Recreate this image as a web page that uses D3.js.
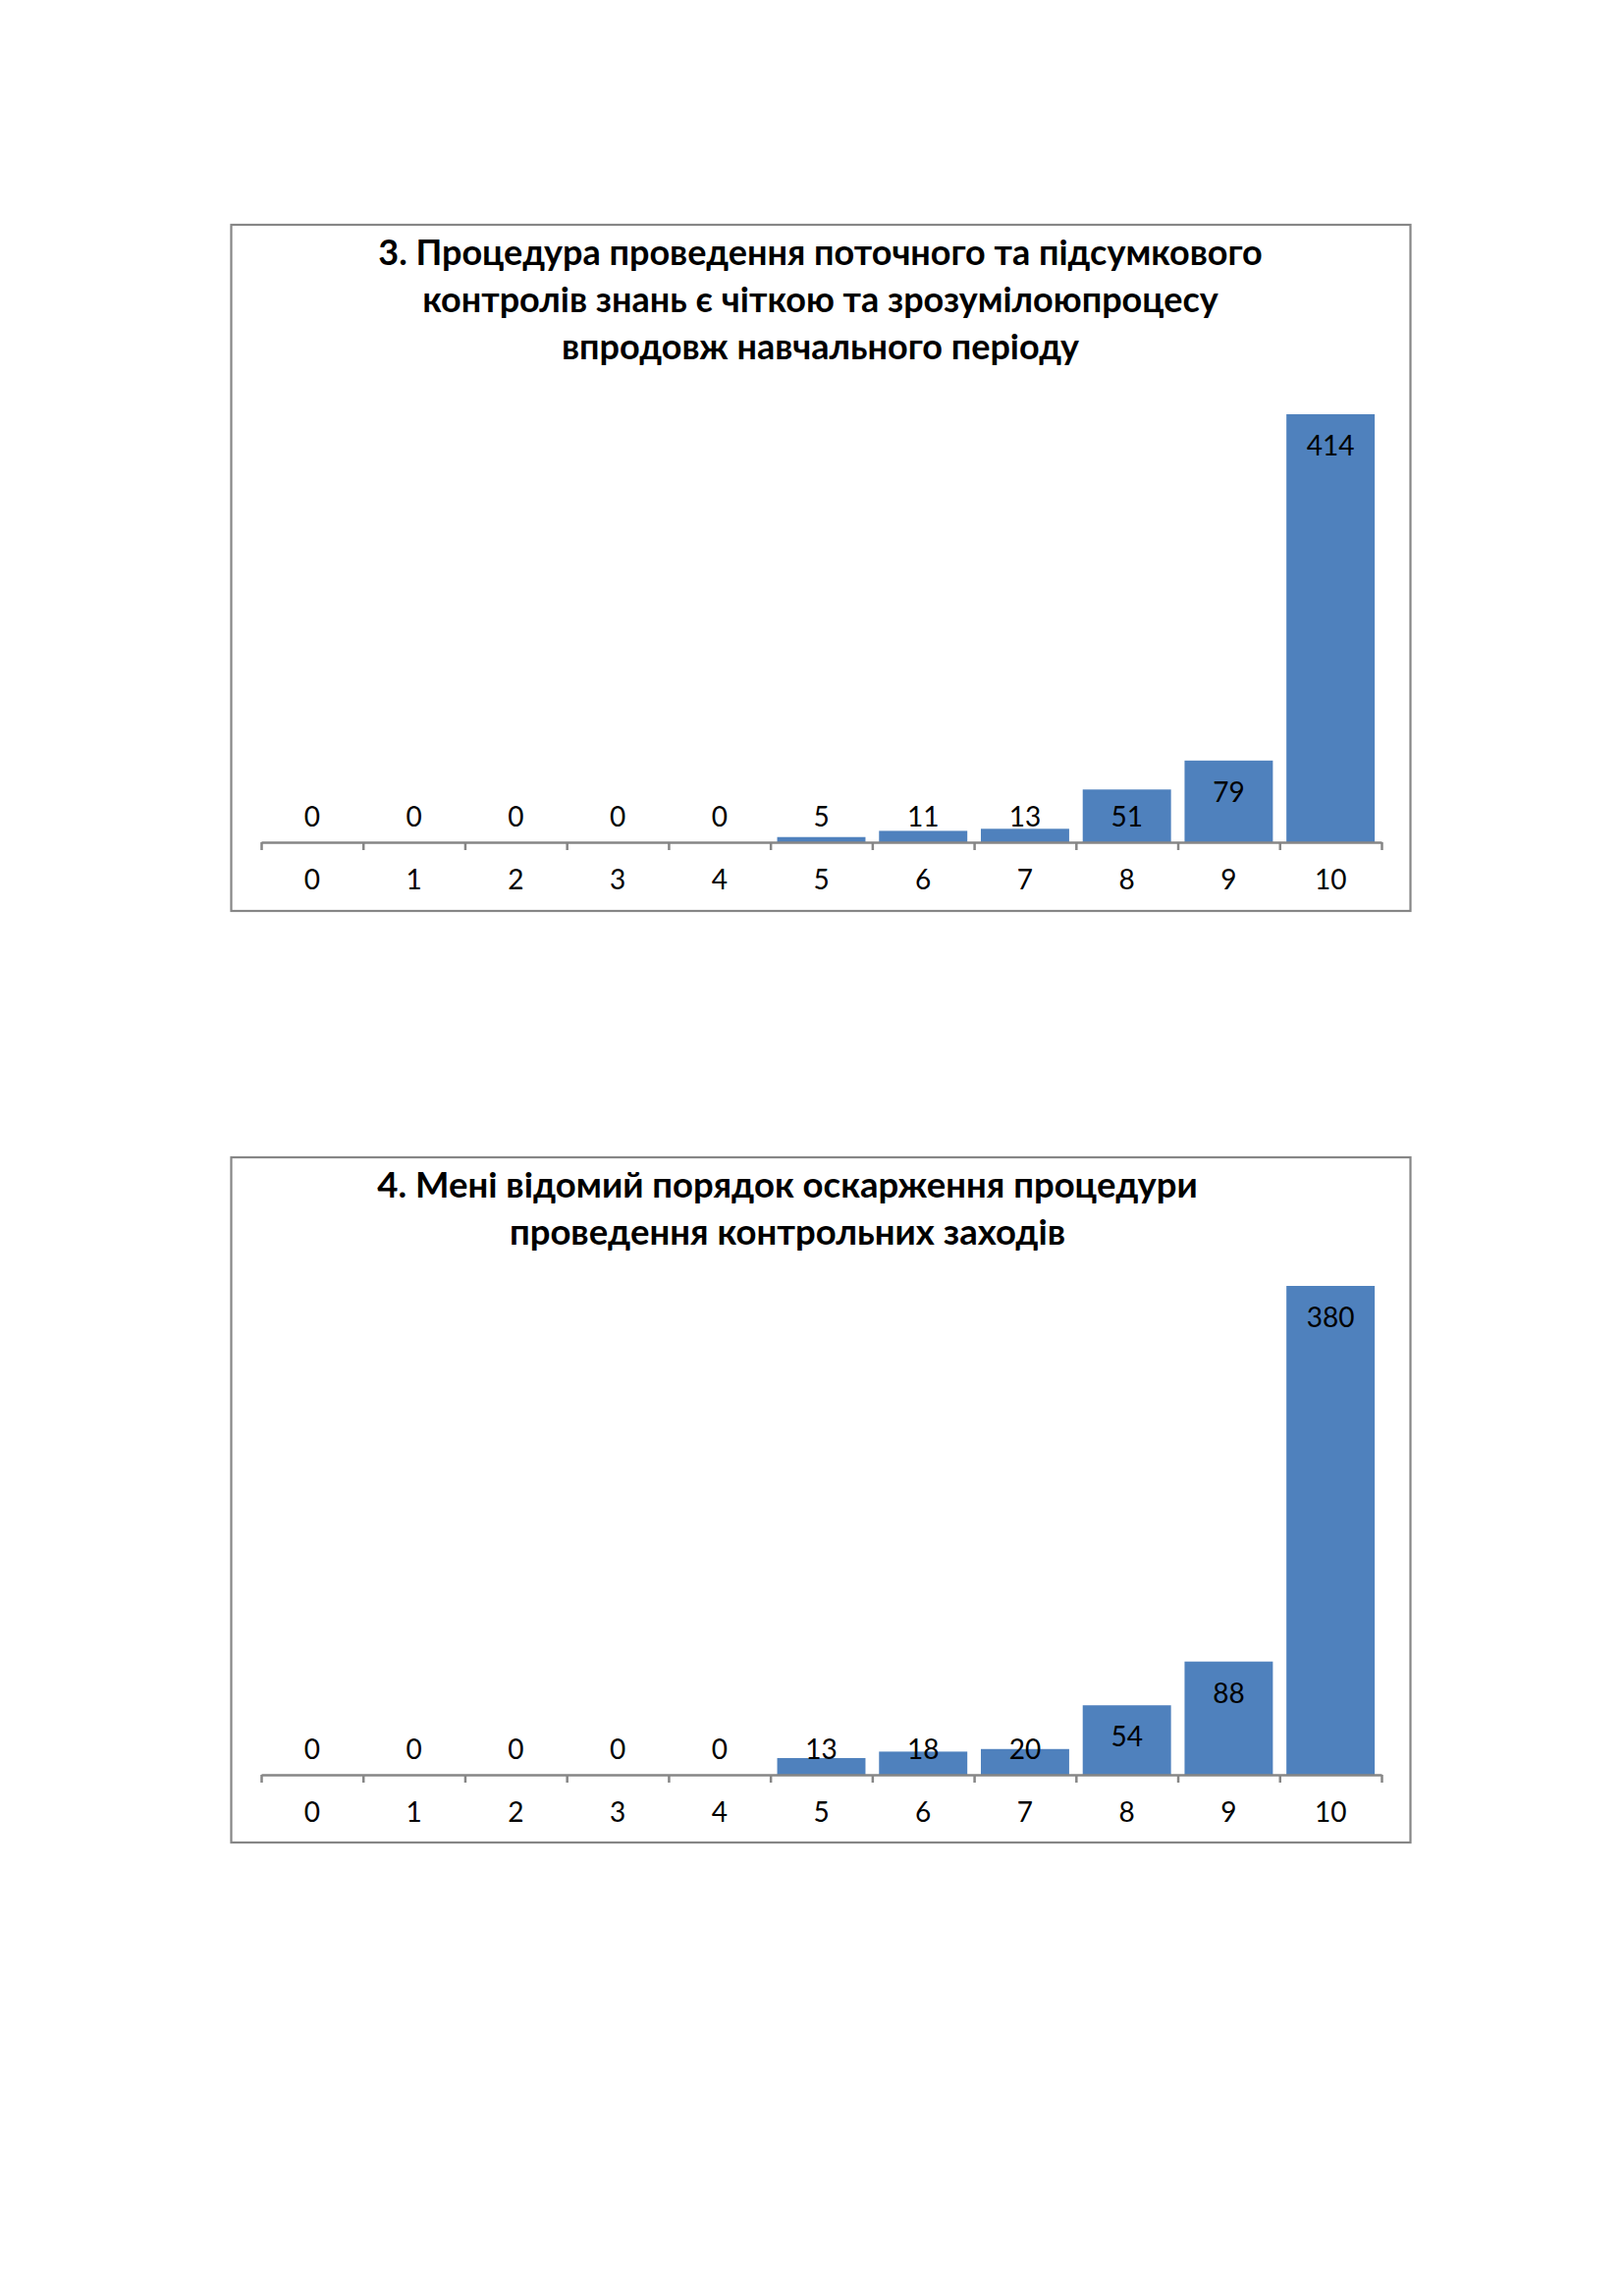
<!DOCTYPE html>
<html><head><meta charset="utf-8">
<script src="https://cdn.jsdelivr.net/npm/d3@7"></script>
<style>body{margin:0;background:#fff}svg{display:block}</style>
</head><body>
<svg id="page" width="1654" height="2339"></svg>
<script>
const categories = ["0","1","2","3","4","5","6","7","8","9","10"];
const values1 = [0,0,0,0,0,5,11,13,51,79,414];
const values2 = [0,0,0,0,0,13,18,20,54,88,380];
const title1 = ["3. Процедура проведення поточного та підсумкового",
                "контролів знань є чіткою та зрозумілоюпроцесу",
                "впродовж навчального періоду"];
const title2 = ["4. Мені відомий порядок оскарження процедури",
                "проведення контрольних заходів"];
const yMax1 = 450, yMax2 = 400;

const svg = d3.select("#page");
const FONT = "Lato, 'Open Sans', sans-serif";
const AX0 = 266, AX1 = 1407;

function chart(cfg){
  const g = svg.append("g");
  g.append("rect").attr("x",cfg.box[0]).attr("y",cfg.box[1])
    .attr("width",cfg.box[2]-cfg.box[0]).attr("height",cfg.box[3]-cfg.box[1])
    .attr("fill","#fff").attr("stroke","#868686").attr("stroke-width",2.2);
  g.selectAll("text.title").data(cfg.title).join("text").attr("class","title")
    .attr("x",cfg.titleX).attr("y",(d,i)=>cfg.titleY+i*48)
    .attr("text-anchor","middle").attr("dominant-baseline","central")
    .attr("font-family",FONT).attr("font-weight","bold").attr("font-size",cfg.titleSize)
    .attr("fill","#000").text(d=>d);
  const x = d3.scaleBand().domain(cfg.cats).range([AX0,AX1]).paddingInner(0.133).paddingOuter(0.0665);
  const y = d3.scaleLinear().domain([0,cfg.yMax]).range([cfg.base,cfg.top]);
  g.selectAll("rect.bar").data(cfg.values).join("rect").attr("class","bar")
    .attr("x",(d,i)=>x(cfg.cats[i])).attr("width",x.bandwidth())
    .attr("y",d=>y(d)).attr("height",d=>cfg.base-y(d)).attr("fill","#4F81BD");
  const xb = d3.scaleLinear().domain([0,cfg.cats.length]).range([AX0,AX1]);
  const ax = g.append("g").attr("transform",`translate(0,${cfg.base})`)
    .call(d3.axisBottom(xb).tickValues(d3.range(cfg.cats.length+1))
      .tickSize(8).tickSizeOuter(0).tickFormat(""));
  ax.select(".domain").attr("stroke","#868686").attr("stroke-width",2.5);
  ax.selectAll(".tick line").attr("stroke","#868686").attr("stroke-width",2.5);
  g.selectAll("text.cat").data(cfg.cats).join("text").attr("class","cat")
    .attr("x",d=>x(d)+x.bandwidth()/2).attr("y",cfg.base+37)
    .attr("text-anchor","middle").attr("dominant-baseline","central")
    .attr("font-family",FONT).attr("font-size",28).attr("fill","#000").text(d=>d);
  g.selectAll("text.val").data(cfg.values).join("text").attr("class","val")
    .attr("x",(d,i)=>x(cfg.cats[i])+x.bandwidth()/2)
    .attr("y",d=>Math.min(y(d)+31, cfg.base-27))
    .attr("text-anchor","middle").attr("dominant-baseline","central")
    .attr("font-family",FONT).attr("font-size",28).attr("fill","#000").text(d=>d);
}

chart({box:[235.5,229,1436.5,928], title:title1, titleX:835.5, titleY:256, titleSize:36,
       cats:categories, values:values1, yMax:yMax1, base:858, top:858-436/414*yMax1});
chart({box:[235.5,1179,1436.5,1877], title:title2, titleX:802, titleY:1206, titleSize:36.5,
       cats:categories, values:values2, yMax:yMax2, base:1808, top:1808-498/380*yMax2});
</script>
</body></html>
